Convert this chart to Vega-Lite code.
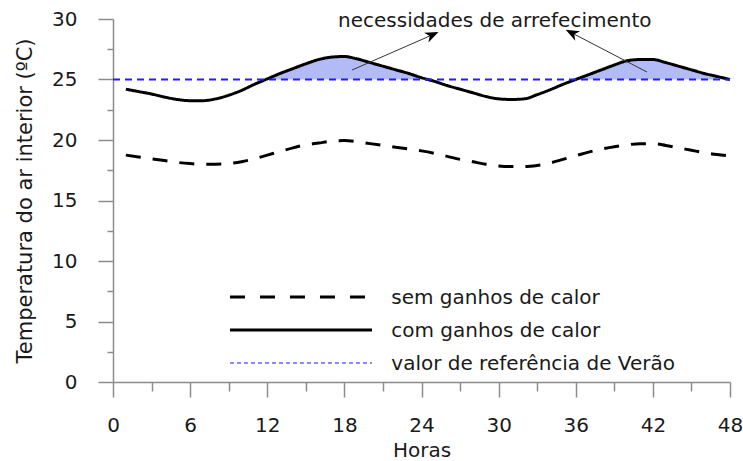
{
  "$schema": "https://vega.github.io/schema/vega-lite/v6.json",
  "width": 617,
  "height": 363,
  "autosize": {"type": "none"},
  "padding": {"left": 113, "top": 19, "right": 13, "bottom": 79},
  "background": "white",
  "config": {
    "view": {"stroke": null},
    "font": "DejaVu Sans",
    "axis": {
      "labelFont": "DejaVu Sans",
      "titleFont": "DejaVu Sans",
      "labelFontSize": 20,
      "titleFontSize": 21,
      "labelColor": "#1a1a1a",
      "titleColor": "#1a1a1a",
      "titleFontWeight": "normal",
      "domainColor": "#8c8c8c",
      "tickColor": "#8c8c8c",
      "domainWidth": 1.5,
      "tickWidth": 1.5,
      "grid": false
    }
  },
  "datasets": {
    "main": [
      {"h": 1, "serie": "com ganhos de calor", "t": 24.2},
      {"h": 2, "serie": "com ganhos de calor", "t": 24.0},
      {"h": 3, "serie": "com ganhos de calor", "t": 23.8},
      {"h": 4, "serie": "com ganhos de calor", "t": 23.55},
      {"h": 5, "serie": "com ganhos de calor", "t": 23.35},
      {"h": 6, "serie": "com ganhos de calor", "t": 23.25},
      {"h": 7, "serie": "com ganhos de calor", "t": 23.25},
      {"h": 8, "serie": "com ganhos de calor", "t": 23.4},
      {"h": 9, "serie": "com ganhos de calor", "t": 23.7},
      {"h": 10, "serie": "com ganhos de calor", "t": 24.1},
      {"h": 11, "serie": "com ganhos de calor", "t": 24.6},
      {"h": 12, "serie": "com ganhos de calor", "t": 25.05},
      {"h": 13, "serie": "com ganhos de calor", "t": 25.5},
      {"h": 14, "serie": "com ganhos de calor", "t": 25.9},
      {"h": 15, "serie": "com ganhos de calor", "t": 26.3},
      {"h": 16, "serie": "com ganhos de calor", "t": 26.65},
      {"h": 17, "serie": "com ganhos de calor", "t": 26.85},
      {"h": 18, "serie": "com ganhos de calor", "t": 26.9},
      {"h": 19, "serie": "com ganhos de calor", "t": 26.7},
      {"h": 20, "serie": "com ganhos de calor", "t": 26.4},
      {"h": 21, "serie": "com ganhos de calor", "t": 26.1},
      {"h": 22, "serie": "com ganhos de calor", "t": 25.8},
      {"h": 23, "serie": "com ganhos de calor", "t": 25.5},
      {"h": 24, "serie": "com ganhos de calor", "t": 25.15},
      {"h": 25, "serie": "com ganhos de calor", "t": 24.85},
      {"h": 26, "serie": "com ganhos de calor", "t": 24.5},
      {"h": 27, "serie": "com ganhos de calor", "t": 24.2},
      {"h": 28, "serie": "com ganhos de calor", "t": 23.9},
      {"h": 29, "serie": "com ganhos de calor", "t": 23.6},
      {"h": 30, "serie": "com ganhos de calor", "t": 23.4},
      {"h": 31, "serie": "com ganhos de calor", "t": 23.35},
      {"h": 32, "serie": "com ganhos de calor", "t": 23.4},
      {"h": 33, "serie": "com ganhos de calor", "t": 23.75},
      {"h": 34, "serie": "com ganhos de calor", "t": 24.15},
      {"h": 35, "serie": "com ganhos de calor", "t": 24.6},
      {"h": 36, "serie": "com ganhos de calor", "t": 25.0},
      {"h": 37, "serie": "com ganhos de calor", "t": 25.4},
      {"h": 38, "serie": "com ganhos de calor", "t": 25.8},
      {"h": 39, "serie": "com ganhos de calor", "t": 26.2},
      {"h": 40, "serie": "com ganhos de calor", "t": 26.55},
      {"h": 41, "serie": "com ganhos de calor", "t": 26.65},
      {"h": 42, "serie": "com ganhos de calor", "t": 26.65},
      {"h": 43, "serie": "com ganhos de calor", "t": 26.4},
      {"h": 44, "serie": "com ganhos de calor", "t": 26.1},
      {"h": 45, "serie": "com ganhos de calor", "t": 25.8},
      {"h": 46, "serie": "com ganhos de calor", "t": 25.5},
      {"h": 47, "serie": "com ganhos de calor", "t": 25.25},
      {"h": 48, "serie": "com ganhos de calor", "t": 25.0},
      {"h": 1, "serie": "sem ganhos de calor", "t": 18.75},
      {"h": 2, "serie": "sem ganhos de calor", "t": 18.6},
      {"h": 3, "serie": "sem ganhos de calor", "t": 18.45},
      {"h": 4, "serie": "sem ganhos de calor", "t": 18.3},
      {"h": 5, "serie": "sem ganhos de calor", "t": 18.15},
      {"h": 6, "serie": "sem ganhos de calor", "t": 18.05},
      {"h": 7, "serie": "sem ganhos de calor", "t": 18.0},
      {"h": 8, "serie": "sem ganhos de calor", "t": 18.0},
      {"h": 9, "serie": "sem ganhos de calor", "t": 18.05},
      {"h": 10, "serie": "sem ganhos de calor", "t": 18.2},
      {"h": 11, "serie": "sem ganhos de calor", "t": 18.45},
      {"h": 12, "serie": "sem ganhos de calor", "t": 18.75},
      {"h": 13, "serie": "sem ganhos de calor", "t": 19.05},
      {"h": 14, "serie": "sem ganhos de calor", "t": 19.35},
      {"h": 15, "serie": "sem ganhos de calor", "t": 19.6},
      {"h": 16, "serie": "sem ganhos de calor", "t": 19.75},
      {"h": 17, "serie": "sem ganhos de calor", "t": 19.9},
      {"h": 18, "serie": "sem ganhos de calor", "t": 19.95},
      {"h": 19, "serie": "sem ganhos de calor", "t": 19.85},
      {"h": 20, "serie": "sem ganhos de calor", "t": 19.7},
      {"h": 21, "serie": "sem ganhos de calor", "t": 19.55},
      {"h": 22, "serie": "sem ganhos de calor", "t": 19.4},
      {"h": 23, "serie": "sem ganhos de calor", "t": 19.25},
      {"h": 24, "serie": "sem ganhos de calor", "t": 19.1},
      {"h": 25, "serie": "sem ganhos de calor", "t": 18.9},
      {"h": 26, "serie": "sem ganhos de calor", "t": 18.65},
      {"h": 27, "serie": "sem ganhos de calor", "t": 18.4},
      {"h": 28, "serie": "sem ganhos de calor", "t": 18.2},
      {"h": 29, "serie": "sem ganhos de calor", "t": 18.0},
      {"h": 30, "serie": "sem ganhos de calor", "t": 17.85},
      {"h": 31, "serie": "sem ganhos de calor", "t": 17.8},
      {"h": 32, "serie": "sem ganhos de calor", "t": 17.8},
      {"h": 33, "serie": "sem ganhos de calor", "t": 17.9},
      {"h": 34, "serie": "sem ganhos de calor", "t": 18.1},
      {"h": 35, "serie": "sem ganhos de calor", "t": 18.4},
      {"h": 36, "serie": "sem ganhos de calor", "t": 18.7},
      {"h": 37, "serie": "sem ganhos de calor", "t": 19.0},
      {"h": 38, "serie": "sem ganhos de calor", "t": 19.25},
      {"h": 39, "serie": "sem ganhos de calor", "t": 19.45},
      {"h": 40, "serie": "sem ganhos de calor", "t": 19.6},
      {"h": 41, "serie": "sem ganhos de calor", "t": 19.7},
      {"h": 42, "serie": "sem ganhos de calor", "t": 19.7},
      {"h": 43, "serie": "sem ganhos de calor", "t": 19.55},
      {"h": 44, "serie": "sem ganhos de calor", "t": 19.35},
      {"h": 45, "serie": "sem ganhos de calor", "t": 19.15},
      {"h": 46, "serie": "sem ganhos de calor", "t": 18.95},
      {"h": 47, "serie": "sem ganhos de calor", "t": 18.8},
      {"h": 48, "serie": "sem ganhos de calor", "t": 18.7}
    ],
    "excess": [
      {"seg": "A", "h": 11.9, "t": 25.0},
      {"seg": "A", "h": 12, "t": 25.05},
      {"seg": "A", "h": 13, "t": 25.5},
      {"seg": "A", "h": 14, "t": 25.9},
      {"seg": "A", "h": 15, "t": 26.3},
      {"seg": "A", "h": 16, "t": 26.65},
      {"seg": "A", "h": 17, "t": 26.85},
      {"seg": "A", "h": 18, "t": 26.9},
      {"seg": "A", "h": 19, "t": 26.7},
      {"seg": "A", "h": 20, "t": 26.4},
      {"seg": "A", "h": 21, "t": 26.1},
      {"seg": "A", "h": 22, "t": 25.8},
      {"seg": "A", "h": 23, "t": 25.5},
      {"seg": "A", "h": 24, "t": 25.15},
      {"seg": "A", "h": 24.5, "t": 25.0},
      {"seg": "B", "h": 36, "t": 25.0},
      {"seg": "B", "h": 37, "t": 25.4},
      {"seg": "B", "h": 38, "t": 25.8},
      {"seg": "B", "h": 39, "t": 26.2},
      {"seg": "B", "h": 40, "t": 26.55},
      {"seg": "B", "h": 41, "t": 26.65},
      {"seg": "B", "h": 42, "t": 26.65},
      {"seg": "B", "h": 43, "t": 26.4},
      {"seg": "B", "h": 44, "t": 26.1},
      {"seg": "B", "h": 45, "t": 25.8},
      {"seg": "B", "h": 46, "t": 25.5},
      {"seg": "B", "h": 47, "t": 25.25},
      {"seg": "B", "h": 48, "t": 25.0}
    ],
    "reference": [
      {"h": 0, "h2": 48, "t": 25}
    ],
    "arrows": [
      {"id": 1, "h": 18.59, "t": 25.78, "h2": 24.82, "t2": 28.68},
      {"id": 2, "h": 41.54, "t": 25.62, "h2": 35.71, "t2": 28.84}
    ],
    "note": [
      {"h": 29.7, "t": 29.34, "label": "necessidades de arrefecimento"}
    ],
    "legend": [
      {"serie": "sem ganhos de calor", "h": 9.1, "h2": 20.15, "hl": 21.65, "t": 7.02},
      {"serie": "com ganhos de calor", "h": 9.1, "h2": 20.15, "hl": 21.65, "t": 4.3},
      {"serie": "valor de referência de Verão", "h": 9.1, "h2": 20.15, "hl": 21.65, "t": 1.57}
    ]
  },
  "encoding": {
    "x": {
      "type": "quantitative",
      "scale": {"domain": [0, 48], "nice": false, "zero": false},
      "axis": {
        "title": "Horas",
        "values": [0, 3, 6, 9, 12, 15, 18, 21, 24, 27, 30, 33, 36, 39, 42, 45, 48],
        "labelExpr": "datum.value % 6 === 0 ? datum.label : ''",
        "tickSize": {"expr": "datum.value % 6 === 0 ? 15 : 9"},
        "labelPadding": 18,
        "titlePadding": 5,
        "titleFontSize": 20,
        "labelFlush": false
      }
    },
    "y": {
      "type": "quantitative",
      "scale": {"domain": [0, 30], "nice": false, "zero": false},
      "axis": {
        "title": "Temperatura do ar interior (ºC)",
        "values": [0, 2.5, 5, 7.5, 10, 12.5, 15, 17.5, 20, 22.5, 25, 27.5, 30],
        "labelExpr": "datum.value % 5 === 0 ? datum.label : ''",
        "tickSize": {"expr": "datum.value % 5 === 0 ? 15 : 6"},
        "labelPadding": 21,
        "titlePadding": 16,
        "labelFlush": false
      }
    }
  },
  "layer": [
    {
      "data": {"name": "excess"},
      "mark": {"type": "area", "color": "#b3bbf6", "opacity": 1, "interpolate": "monotone"},
      "encoding": {
        "x": {"field": "h"},
        "y": {"field": "t"},
        "y2": {"datum": 25},
        "detail": {"field": "seg", "type": "nominal"}
      }
    },
    {
      "data": {"name": "main"},
      "mark": {"type": "line", "interpolate": "monotone", "color": "#000000", "strokeWidth": 3},
      "encoding": {
        "x": {"field": "h"},
        "y": {"field": "t"},
        "strokeDash": {
          "field": "serie",
          "type": "nominal",
          "scale": {
            "domain": ["sem ganhos de calor", "com ganhos de calor"],
            "range": [[15, 12], [1, 0]]
          },
          "legend": null
        }
      }
    },
    {
      "data": {"name": "reference"},
      "mark": {"type": "rule", "color": "#1f1ff2", "strokeWidth": 1.8, "strokeDash": [7, 5]},
      "encoding": {
        "x": {"field": "h"},
        "x2": {"field": "h2"},
        "y": {"field": "t"}
      }
    },
    {
      "data": {"name": "arrows"},
      "mark": {"type": "rule", "color": "#333333", "strokeWidth": 1},
      "encoding": {
        "x": {"field": "h"},
        "y": {"field": "t"},
        "x2": {"field": "h2"},
        "y2": {"field": "t2"}
      }
    },
    {
      "data": {"name": "arrows"},
      "transform": [{"filter": "datum.id === 1"}],
      "mark": {"type": "point", "shape": "M0,-1L0.75,0.9L0,0.35L-0.75,0.9Z", "filled": true, "color": "#000000", "size": 200, "angle": 66, "opacity": 1},
      "encoding": {
        "x": {"field": "h2"},
        "y": {"field": "t2"}
      }
    },
    {
      "data": {"name": "arrows"},
      "transform": [{"filter": "datum.id === 2"}],
      "mark": {"type": "point", "shape": "M0,-1L0.75,0.9L0,0.35L-0.75,0.9Z", "filled": true, "color": "#000000", "size": 200, "angle": 297, "opacity": 1},
      "encoding": {
        "x": {"field": "h2"},
        "y": {"field": "t2"}
      }
    },
    {
      "data": {"name": "note"},
      "mark": {"type": "text", "font": "DejaVu Sans", "fontSize": 20, "align": "center", "baseline": "alphabetic", "color": "#1a1a1a"},
      "encoding": {
        "x": {"field": "h"},
        "y": {"field": "t"},
        "text": {"field": "label"}
      }
    },
    {
      "data": {"name": "legend"},
      "transform": [{"filter": "datum.serie === 'sem ganhos de calor'"}],
      "mark": {"type": "rule", "color": "#000000", "strokeWidth": 3, "strokeDash": [15, 15]},
      "encoding": {
        "x": {"field": "h"},
        "x2": {"field": "h2"},
        "y": {"field": "t"}
      }
    },
    {
      "data": {"name": "legend"},
      "transform": [{"filter": "datum.serie === 'com ganhos de calor'"}],
      "mark": {"type": "rule", "color": "#000000", "strokeWidth": 3},
      "encoding": {
        "x": {"field": "h"},
        "x2": {"field": "h2"},
        "y": {"field": "t"}
      }
    },
    {
      "data": {"name": "legend"},
      "transform": [{"filter": "datum.serie === 'valor de referência de Verão'"}],
      "mark": {"type": "rule", "color": "#8a8aff", "strokeWidth": 2, "strokeDash": [4, 3]},
      "encoding": {
        "x": {"field": "h"},
        "x2": {"field": "h2"},
        "y": {"field": "t"}
      }
    },
    {
      "data": {"name": "legend"},
      "mark": {"type": "text", "font": "DejaVu Sans", "fontSize": 20, "align": "left", "baseline": "middle", "color": "#1a1a1a", "dy": 1},
      "encoding": {
        "x": {"field": "hl"},
        "y": {"field": "t"},
        "text": {"field": "serie"}
      }
    }
  ]
}
